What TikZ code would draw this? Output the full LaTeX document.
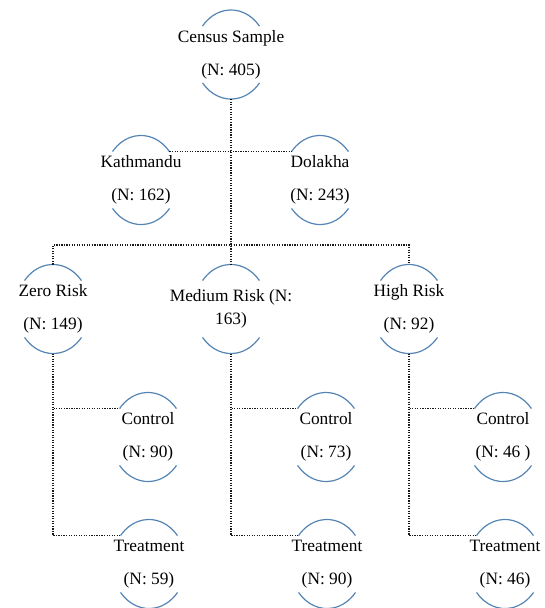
\documentclass[tikz,border=0pt]{standalone}
\usepackage{fontspec}
\setmainfont{Liberation Serif}
\usepackage{tikz}
\usetikzlibrary{arrows,positioning,shapes.geometric}
\definecolor{rimblue}{RGB}{84,132,180}

\begin{document}
\begin{tikzpicture}[x=0.75pt,y=-0.75pt,semithick,
	grp/.style={ellipse,minimum width=55.5pt,minimum height=66.75pt,inner sep=0pt,outer sep=0pt},
	txt/.style={align=center,font=\fontsize{13}{24.75}\selectfont},
	link/.style={densely dotted,line width=0.9pt,black!90},
	rim/.style={rimblue,line width=0.9pt}]
	\useasboundingbox (0,0) rectangle (545,608);

	\node[grp]	(census)	at (231,54.5)	[label={[txt]center:Census Sample\\(N: 405)}]	{};
	\node[grp]	(kath)		at (141,180)	[label={[txt]center:Kathmandu\\(N: 162)}]		{};
	\node[grp]	(dol)		at (320,180)	[label={[txt]center:Dolakha\\(N: 243)}]		{};
	\node[grp]	(zero)		at (53,309)		[label={[txt]center:Zero Risk\\(N: 149)}]		{};
	\node[grp]	(medium)	at (231,309)	[label={[txt,font=\fontsize{13}{17.25}\selectfont]center:Medium Risk (N:\\163)}]	{};
	\node[grp]	(high)		at (409,309)	[label={[txt]center:High Risk\\(N: 92)}]		{};
	\node[grp]	(ctrlzero)	at (148,437)	[label={[txt]center:Control\\(N: 90)}]			{};
	\node[grp]	(trtzero)	at (149,564)	[label={[txt]center:Treatment\\(N: 59)}]		{};
	\node[grp]	(ctrlmed)	at (326,437)	[label={[txt]center:Control\\(N: 73)}]			{};
	\node[grp]	(trtmed)	at (327,564)	[label={[txt]center:Treatment\\(N: 90)}]		{};
	\node[grp]	(ctrlhigh)	at (503,437)	[label={[txt]center:Control\\(N: 46 )}]		{};
	\node[grp]	(trthigh)	at (505,564)	[label={[txt]center:Treatment\\(N: 46)}]		{};
	\coordinate	(riskbar)	at (231,245);

	% open circles round every group
	\foreach \n in {census,kath,dol,zero,medium,high,ctrlzero,trtzero,ctrlmed,trtmed,ctrlhigh,trthigh}{
		\draw[rim] (\n.45) arc[start angle=39.7,end angle=140.3,x radius=27.75pt,y radius=33.4pt];
		\draw[rim] (\n.225) arc[start angle=219.7,end angle=320.3,x radius=27.75pt,y radius=33.4pt];
	}

	\path[link]
		(census.south)	edge	(medium.north)
		(kath.45)		edge	(dol.135)
	;
	\draw[link] (zero.north) |- (riskbar) -| (high.north);
	\draw[link] (zero.south) |- (ctrlzero.135);
	\draw[link] (zero.south) |- (trtzero.135);
	\draw[link] (medium.south) |- (ctrlmed.135);
	\draw[link] (medium.south) |- (trtmed.135);
	\draw[link] (high.south) |- (ctrlhigh.135);
	\draw[link] (high.south) |- (trthigh.135);
\end{tikzpicture}
\end{document}
